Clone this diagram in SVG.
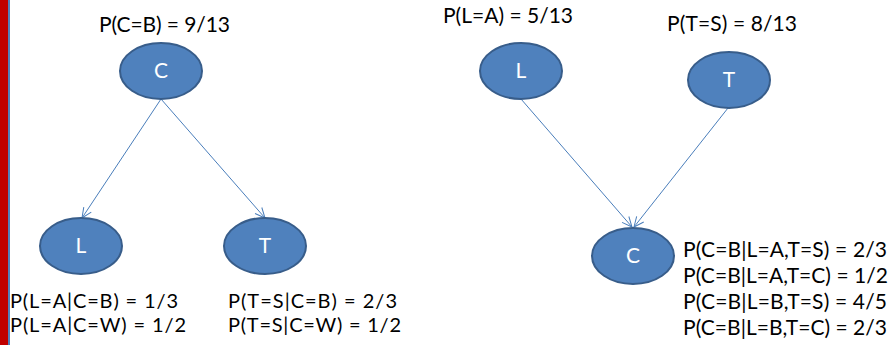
<svg xmlns="http://www.w3.org/2000/svg" width="893" height="345" viewBox="0 0 893 345">
<style>
.lbl{font-family:Lato,"Liberation Sans",sans-serif;font-size:21px;fill:#000}
.sm{font-size:20px}
.nd{fill:#4F81BD;stroke:#385D8A;stroke-width:2}
.nt{font-family:Lato,"Liberation Sans",sans-serif;font-size:21px;fill:#fff;text-anchor:middle}
.edge{stroke:#4A7EBB;stroke-width:1;fill:none}
</style>
<defs>
<marker id="arr" viewBox="0 0 12 12" refX="11" refY="6" markerWidth="12" markerHeight="12" markerUnits="userSpaceOnUse" orient="auto">
<path d="M1,1.5 L11,6 L1,10.5" fill="none" stroke="#4A7EBB" stroke-width="1"/>
</marker>
</defs>
<rect x="0" y="0" width="893" height="345" fill="#fff"/>
<rect x="0" y="0" width="8" height="345" fill="#C00000"/>
<rect x="8" y="0" width="2" height="345" fill="#4F81BD"/>
<g id="connectors">
<line class="edge" x1="161" y1="99" x2="82" y2="218" marker-end="url(#arr)"/>
<line class="edge" x1="161" y1="99" x2="265" y2="218" marker-end="url(#arr)"/>
<line class="edge" x1="521" y1="99" x2="632" y2="227" marker-end="url(#arr)"/>
<line class="edge" x1="728" y1="108" x2="634" y2="227" marker-end="url(#arr)"/>
</g>
<g id="node-C1">
<ellipse class="nd" cx="161" cy="71" rx="41" ry="28"/>
<text class="nt" x="161" y="78">C</text>
<text class="lbl" x="99" y="32" textLength="131" lengthAdjust="spacing">P(C=B) = 9/13</text>
</g>
<g id="node-L1">
<ellipse class="nd" cx="81" cy="246" rx="41" ry="28"/>
<text class="nt" x="81" y="253">L</text>
<text class="lbl sm" x="10" y="308" textLength="168" lengthAdjust="spacing">P(L=A|C=B) = 1/3</text>
<text class="lbl sm" x="10" y="332" textLength="176" lengthAdjust="spacing">P(L=A|C=W) = 1/2</text>
</g>
<g id="node-T1">
<ellipse class="nd" cx="265" cy="246" rx="41" ry="28"/>
<text class="nt" x="265" y="253">T</text>
<text class="lbl sm" x="228" y="308" textLength="169" lengthAdjust="spacing">P(T=S|C=B) = 2/3</text>
<text class="lbl sm" x="228" y="332" textLength="173" lengthAdjust="spacing">P(T=S|C=W) = 1/2</text>
</g>
<g id="node-L2">
<ellipse class="nd" cx="521" cy="71" rx="41" ry="28"/>
<text class="nt" x="521" y="78">L</text>
<text class="lbl" x="443" y="23" textLength="130" lengthAdjust="spacing">P(L=A) = 5/13</text>
</g>
<g id="node-T2">
<ellipse class="nd" cx="729" cy="80" rx="41" ry="28"/>
<text class="nt" x="729" y="87">T</text>
<text class="lbl" x="667" y="31" textLength="130" lengthAdjust="spacing">P(T=S) = 8/13</text>
</g>
<g id="node-C2">
<ellipse class="nd" cx="633" cy="256" rx="41" ry="28"/>
<text class="nt" x="633" y="263">C</text>
<text class="lbl" x="683" y="257" textLength="204" lengthAdjust="spacing">P(C=B|L=A,T=S) = 2/3</text>
<text class="lbl" x="683" y="283" textLength="205" lengthAdjust="spacing">P(C=B|L=A,T=C) = 1/2</text>
<text class="lbl" x="683" y="309" textLength="204" lengthAdjust="spacing">P(C=B|L=B,T=S) = 4/5</text>
<text class="lbl" x="683" y="335" textLength="204" lengthAdjust="spacing">P(C=B|L=B,T=C) = 2/3</text>
</g>
</svg>
